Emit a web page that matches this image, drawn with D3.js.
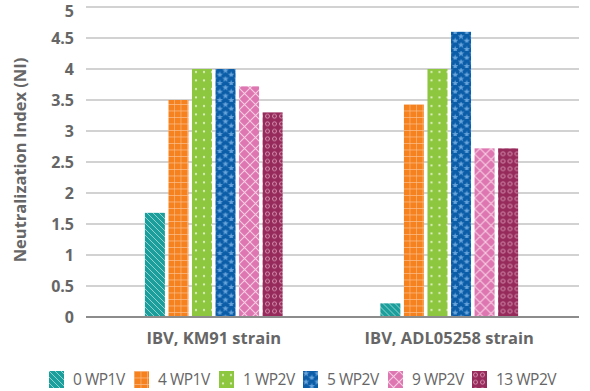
<!DOCTYPE html>
<html>
<head>
<meta charset="utf-8">
<script src="https://cdn.jsdelivr.net/npm/d3@7"></script>
<style>
  html, body { margin: 0; padding: 0; background: #fff; }
  svg { display: block; }
  text { font-family: "Open Sans", "Noto Sans", sans-serif; fill: #666; }
</style>
</head>
<body>
<svg id="chart" width="590" height="391"></svg>
<script>
// Neutralization index per strain and vaccination schedule
const categories = ["IBV, KM91 strain", "IBV, ADL05258 strain"];
const seriesNames = ["0 WP1V", "4 WP1V", "1 WP2V", "5 WP2V", "9 WP2V", "13 WP2V"];
const seriesValues = [
  [1.68, 0.22],
  [3.5, 3.43],
  [4.0, 4.0],
  [4.0, 4.6],
  [3.72, 2.72],
  [3.3, 2.72]
];
const yTicks = [0, 0.5, 1, 1.5, 2, 2.5, 3, 3.5, 4, 4.5, 5];
const yTitle = "Neutralization Index (NI)";

const colors = ["#1b9e9c", "#f5821f", "#8dc63f", "#0b5da8", "#de77b1", "#962a5b"];
const patternIds = ["pTeal", "pOrange", "pGreen", "pBlue", "pPink", "pMaroon"];

const svg = d3.select("#chart");
const defs = svg.append("defs");

// Pattern fills for each series
function pattern(id, w, h, color) {
  const p = defs.append("pattern").attr("id", id)
    .attr("patternUnits", "userSpaceOnUse").attr("width", w).attr("height", h);
  p.append("rect").attr("width", w).attr("height", h).attr("fill", color);
  return p;
}
// teal: diagonal stripes
{
  const p = pattern("pTeal", 6, 6, colors[0]);
  p.append("path").attr("d", "M-1,-1 L7,7 M-4,2 L4,10 M2,-4 L10,4")
    .attr("stroke", "#8fd3d0").attr("stroke-width", 1);
}
// orange: grid
{
  const p = pattern("pOrange", 6.5, 6.5, colors[1]);
  p.append("path").attr("d", "M0,0 H6.5 M0,0 V6.5")
    .attr("stroke", "#fbc08e").attr("stroke-width", 1.2).attr("fill", "none");
}
// green: dots
{
  const p = pattern("pGreen", 8, 8.5, colors[2]);
  p.append("circle").attr("cx", 4).attr("cy", 4).attr("r", 1.1).attr("fill", "#e3f2cc");
}
// blue: stars
{
  const p = pattern("pBlue", 11.5, 8.5, colors[3]);
  const star = d3.symbol().type(d3.symbolStar).size(14);
  p.append("path").attr("d", star()).attr("transform", "translate(3,2.5)").attr("fill", "#6aa6dc");
  p.append("path").attr("d", star()).attr("transform", "translate(8.75,6.75)").attr("fill", "#6aa6dc");
}
// pink: diagonal cross-hatch
{
  const p = pattern("pPink", 11, 11, colors[4]);
  p.append("path").attr("d", "M0,0 L11,11 M11,0 L0,11")
    .attr("stroke", "#f6cde3").attr("stroke-width", 1.1);
}
// maroon: ring circles
{
  const p = pattern("pMaroon", 7, 7.5, colors[5]);
  p.append("circle").attr("cx", 3.5).attr("cy", 3.75).attr("r", 2)
    .attr("fill", "none").attr("stroke", "#d99ab7").attr("stroke-width", 0.9);
}

const gridLeft = 86, gridRight = 579;
const y = d3.scaleLinear().domain([0, 5]).range([317, 7]);
const x0 = d3.scaleBand().domain(categories).range([96, 567]).paddingInner(0).paddingOuter(0);
const x1 = d3.scaleBand().domain(seriesNames).range([0, x0.bandwidth()])
  .paddingInner(0.15).paddingOuter(2.075);

// gridlines
svg.append("g").selectAll("line").data(yTicks.filter(t => t > 0)).join("line")
  .attr("x1", gridLeft).attr("x2", gridRight)
  .attr("y1", d => y(d)).attr("y2", d => y(d))
  .attr("stroke", "#a6a6a6").attr("stroke-width", 1.2);

// y tick labels
const yAxis = d3.axisLeft(y).tickValues(yTicks).tickSize(0).tickPadding(0)
  .tickFormat(d => String(d));
const gy = svg.append("g").attr("transform", `translate(74,0)`).call(yAxis);
gy.select(".domain").remove();
gy.selectAll("text").attr("font-size", 16).attr("font-weight", 700)
  .attr("fill", "#707070").style("font-family", "'Open Sans', sans-serif");
// keep the top label inside the canvas
gy.selectAll(".tick").filter(d => d === 5).select("text").attr("dy", "0.6em");

// bars
const groups = svg.append("g").selectAll("g").data(categories).join("g")
  .attr("transform", d => `translate(${x0(d)},0)`);
groups.selectAll("rect")
  .data((c, ci) => seriesNames.map((s, si) => ({ s, si, v: seriesValues[si][ci] })))
  .join("rect")
  .attr("x", d => x1(d.s))
  .attr("width", x1.bandwidth())
  .attr("y", d => y(d.v))
  .attr("height", d => y(0) - y(d.v))
  .attr("fill", d => `url(#${patternIds[d.si]})`);

// baseline
svg.append("line").attr("x1", gridLeft).attr("x2", gridRight)
  .attr("y1", y(0)).attr("y2", y(0))
  .attr("stroke", "#8c8c8c").attr("stroke-width", 2);

// category labels
const xAxis = d3.axisBottom(x0).tickSize(0).tickPadding(0);
const gx = svg.append("g").attr("transform", `translate(0,${y(0)})`).call(xAxis);
gx.select(".domain").remove();
gx.selectAll("text").attr("dy", 0).attr("y", 27)
  .attr("font-size", 16.5).attr("font-weight", 700).attr("fill", "#6e6e6e")
  .style("font-family", "'Open Sans', sans-serif");

// y title
svg.append("text")
  .attr("transform", `translate(26,160) rotate(-90)`)
  .attr("text-anchor", "middle")
  .attr("font-size", 16.5).attr("font-weight", 700).attr("fill", "#6e6e6e")
  .text(yTitle);

// legend
const legendX = [49, 134, 219, 303, 388, 472];
const lg = svg.append("g").selectAll("g").data(seriesNames).join("g")
  .attr("transform", (d, i) => `translate(${legendX[i]},371)`);
lg.append("rect").attr("width", 15).attr("height", 17)
  .attr("fill", (d, i) => `url(#${patternIds[i]})`);
lg.append("text").attr("x", 24).attr("y", 14)
  .attr("font-size", 15.5).attr("fill", "#707070")
  .attr("letter-spacing", -0.5)
  .text(d => d);
</script>
</body>
</html>
